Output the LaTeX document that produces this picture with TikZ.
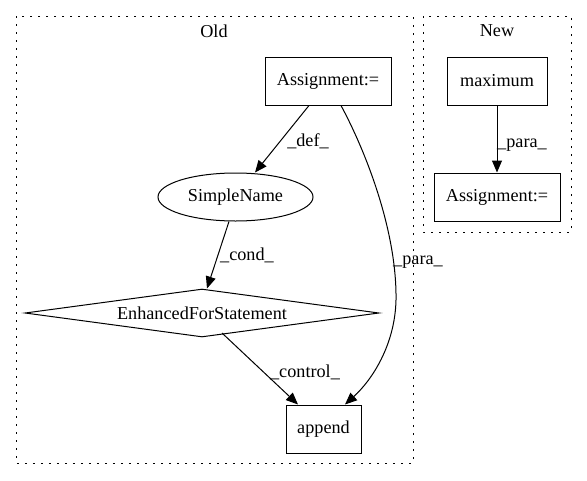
\documentclass[tikz,border=0pt]{standalone}
\usepackage{fontspec}
\setmainfont{Liberation Serif}
\usetikzlibrary{shapes.geometric,arrows.meta}
\begin{document}
\begin{tikzpicture}[x=1pt,y=-1pt,
  every node/.style={font=\fontsize{18.2}{20}\selectfont},
  box/.style={draw,line width=1pt,minimum height=48pt,inner sep=0pt},
  cluster/.style={draw,line width=1pt,dash pattern=on 1.6pt off 6.4pt},
  edge/.style={draw,line width=1pt,-{Triangle[length=12pt,width=10pt]}},
  lbl/.style={inner sep=1pt}]
\useasboundingbox (0,0) rectangle (587,480);
% clusters
\draw[cluster] (16,16) rectangle (413,463);
\draw[cluster] (423,16) rectangle (571,232);
\node (told) at (214,31) {Old};
\node (tnew) at (497,31) {New};
% old nodes
\node[box,minimum width=126pt] (a1) at (328,81) {Assignment:=};
\node[draw,line width=1pt,ellipse,minimum width=155pt,minimum height=48pt,inner sep=0pt] (sn) at (235.5,197) {SimpleName};
\node[draw,line width=1pt,diamond,aspect=7.4,minimum width=354pt,minimum height=48pt,inner sep=0pt] (efs) at (202,313) {EnhancedForStatement};
\node[box,minimum width=75pt] (ap) at (323.5,429) {append};
% new nodes
\node[box,minimum width=100pt] (mx) at (497,81) {maximum};
\node[box,minimum width=126pt] (a2) at (497,197) {Assignment:=};
% edges
\draw[edge] ([xshift=-19pt]a1.south) -- ([xshift=19.5pt]sn.north);
\node[lbl] (ldef) at (308,141) {\_def\_};
\draw[edge] ([xshift=-6.5pt]sn.south) -- ([xshift=5pt]efs.north);
\node[lbl] (lcond) at (247,255) {\_cond\_};
\coordinate (cs) at (222,333);
\draw[edge] (cs) -- ([xshift=-25.5pt]ap.north);
\node[lbl] (lctl) at (305,372) {\_control\_};
\draw[edge] ([xshift=13pt]a1.south) .. controls (365,150) and (397,230) .. (396,300) .. controls (395,345) and (372,380) .. ([xshift=21.5pt]ap.north);
\node[lbl] (lpara) at (418,262) {\_para\_};
\draw[edge] (mx) -- (a2);
\node[lbl] (lpara2) at (522,145) {\_para\_};
\end{tikzpicture}
\end{document}
